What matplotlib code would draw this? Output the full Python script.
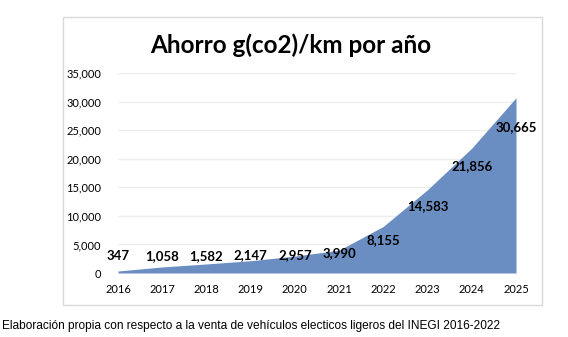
import matplotlib
matplotlib.use('Agg')
import matplotlib.pyplot as plt
import matplotlib.patches as patches
from matplotlib.ticker import FuncFormatter

# data
years = [2016, 2017, 2018, 2019, 2020, 2021, 2022, 2023, 2024, 2025]
ahorro = [347, 1058, 1582, 2147, 2957, 3990, 8155, 14583, 21856, 30665]
# label offsets in points (above/below the edge)
label_dy = [11, 8, 6, 4, 1, -2, -10, -12, -13, -21]

W, H = 568, 337
fig = plt.figure(figsize=(W/100, H/100), dpi=100)

# chart frame
fig.patches.append(patches.Rectangle((63/W, 1 - 305/H), (542-63)/W, (305-17)/H,
                                     transform=fig.transFigure, fill=False,
                                     edgecolor='#D9D9D9', linewidth=1))

ax = fig.add_axes([118/W, 1 - 273/H, (516-118)/W, (273-73)/H])
ax.fill_between(years, ahorro, 0, color='#6A8EC1', linewidth=0, zorder=2)
ax.set_xlim(2016, 2025)
ax.set_ylim(0, 35000)
ax.set_yticks(range(0, 35001, 5000))
ax.set_xticks(years)
ax.yaxis.set_major_formatter(FuncFormatter(lambda v, p: f'{int(v):,}'))
ax.grid(axis='y', color='#EDEDED', linewidth=1, zorder=0)
for s in ax.spines.values():
    s.set_visible(False)
ax.tick_params(length=0, labelsize=8, colors='#000000')
ax.tick_params(axis='x', pad=8)
ax.tick_params(axis='y', pad=12)
for lab in ax.get_xticklabels() + ax.get_yticklabels():
    lab.set_fontfamily('Lato')

for x, v, dy in zip(years, ahorro, label_dy):
    ax.annotate(f'{v:,}', (x, v), xytext=(0, dy), textcoords='offset points',
                ha='center', va='center', fontsize=9.5, fontweight='bold',
                fontfamily='Lato', zorder=3)

fig.text(291/W, 1 - 45/H, 'Ahorro g(co2)/km por año', ha='center', va='center',
         fontsize=17.5, fontweight='bold', fontfamily='Lato')

fig.text(2/W, 1 - 326/H,
         'Elaboración propia con respecto a la venta de vehículos electicos ligeros del INEGI 2016-2022',
         ha='left', va='center', fontsize=8.6, fontfamily='Liberation Sans')

fig.savefig('out.png', dpi=100)
